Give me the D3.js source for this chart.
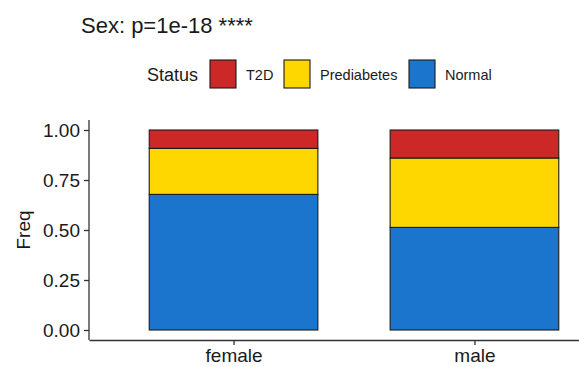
<!DOCTYPE html>
<html>
<head>
<meta charset="utf-8">
<script src="https://cdn.jsdelivr.net/npm/d3@7"></script>
<style>
  html, body { margin: 0; padding: 0; background: #fff; }
  svg { display: block; font-family: Arial, "Liberation Sans", sans-serif; }
</style>
</head>
<body>
<svg id="chart" width="579" height="367"></svg>
<script>
// Proportion of each diabetes status within each sex
const categories = ["female", "male"];
const statuses = ["T2D", "Prediabetes", "Normal"];
const normal = [0.678, 0.513];
const prediabetes = [0.230, 0.347];
const t2d = [0.092, 0.140];
const yTicks = [0, 0.25, 0.5, 0.75, 1];
const statusColors = ["#CD2828", "#FFD700", "#1B75CD"];
const title = "Sex: p=1e-18 ****";

const svg = d3.select("#chart");

// Panel spans past the right edge of the window
const panelLeft = 89, panelRight = 619;
// discrete axis with 0.6 units of expansion on each side
const x = d3.scalePoint()
  .domain(categories)
  .range([panelLeft, panelRight])
  .padding(0.6);
const barW = x.step() * 0.7;

const y = d3.scaleLinear().domain([0, 1]).range([330, 130]);

// stacked data: Normal bottom, then Prediabetes, then T2D on top
const rows = categories.map((c, i) => ({ sex: c, Normal: normal[i], Prediabetes: prediabetes[i], T2D: t2d[i] }));
const stack = d3.stack().keys(["Normal", "Prediabetes", "T2D"]);
const layers = stack(rows);
const color = d3.scaleOrdinal().domain(statuses).range(statusColors);

const g = svg.append("g");
layers.forEach(layer => {
  g.selectAll(null)
    .data(layer)
    .enter().append("rect")
    .attr("x", d => x(d.data.sex) - barW / 2)
    .attr("width", barW)
    .attr("y", d => y(d[1]))
    .attr("height", d => y(d[0]) - y(d[1]))
    .attr("fill", color(layer.key))
    .attr("stroke", "#1a1a1a")
    .attr("stroke-width", 1.1);
});

// y axis
const yAxis = svg.append("g")
  .attr("transform", `translate(${panelLeft},0)`)
  .call(d3.axisLeft(y).tickValues(yTicks).tickFormat(d3.format(".2f")).tickSize(5).tickPadding(4));
yAxis.select(".domain").attr("d", `M0,120V340`).attr("stroke", "#333").attr("stroke-width", 1.3);
yAxis.selectAll(".tick line").attr("stroke", "#333").attr("stroke-width", 1.3);
yAxis.selectAll(".tick text").attr("font-size", 19).attr("fill", "#1a1a1a").attr("font-family", "Arial, 'Liberation Sans', sans-serif");

// x axis
const xAxis = svg.append("g")
  .attr("transform", "translate(0,340)")
  .call(d3.axisBottom(x).tickSize(5).tickPadding(4).tickSizeOuter(0));
xAxis.select(".domain").attr("stroke", "#333").attr("stroke-width", 1.3);
xAxis.selectAll(".tick line").attr("stroke", "#333").attr("stroke-width", 1.3);
xAxis.selectAll(".tick text").attr("font-size", 19).attr("fill", "#1a1a1a").attr("font-family", "Arial, 'Liberation Sans', sans-serif");

// y axis title
svg.append("text")
  .attr("transform", "translate(30,230) rotate(-90)")
  .attr("text-anchor", "middle")
  .attr("font-size", 19)
  .attr("fill", "#1a1a1a")
  .text("Freq");

// title
svg.append("text")
  .attr("x", 81).attr("y", 33)
  .attr("font-size", 22)
  .attr("fill", "#1a1a1a")
  .text(title);

// legend
const legend = svg.append("g");
legend.append("text").attr("x", 147).attr("y", 81).attr("font-size", 18).attr("fill", "#1a1a1a").text("Status");
const keyX = [210, 284, 409];
statuses.forEach((s, i) => {
  legend.append("rect")
    .attr("x", keyX[i]).attr("y", 60).attr("width", 26).attr("height", 28)
    .attr("fill", color(s)).attr("stroke", "#1a1a1a").attr("stroke-width", 1.1);
  legend.append("text")
    .attr("x", keyX[i] + 36).attr("y", 80)
    .attr("font-size", 14.5).attr("fill", "#1a1a1a").text(s);
});
</script>
</body>
</html>
